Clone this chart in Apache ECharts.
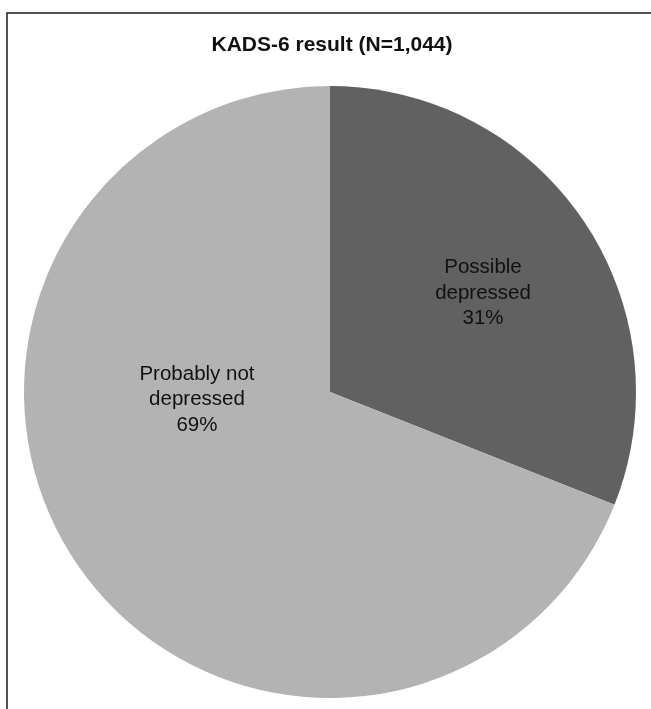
<!DOCTYPE html>
<html><head><meta charset="utf-8">
<script src="https://cdn.jsdelivr.net/npm/echarts@6/dist/echarts.min.js"></script>
<style>html,body{margin:0;padding:0;background:#fff;}#c{width:651px;height:709px;}</style>
</head><body><div id="c"></div>
<script>
const titleText = 'KADS-6 result (N=1,044)';
const categories = ['Possible\ndepressed', 'Probably not\ndepressed'];
const values = [31, 69];
const colors = ['#616161', '#b3b3b3'];
const labelOffsets = [[24, -11], [-4, -80]];

const chart = echarts.init(document.getElementById('c'));
chart.setOption({
  animation: false,
  backgroundColor: '#fff',
  title: {
    text: titleText, left: 327, textAlign: 'center', top: 30,
    textStyle: { fontFamily: 'Liberation Sans', fontWeight: 'bold', fontSize: 21, color: '#111' }
  },
  graphic: [{
    type: 'rect', shape: { x: 7, y: 13, width: 720, height: 760 },
    style: { fill: 'none', stroke: '#1a1a1a', lineWidth: 1.5 }, silent: true
  }],
  series: [{
    type: 'pie',
    center: [330, 392], radius: 306,
    startAngle: 90, clockwise: true,
    label: {
      show: true, position: 'inside',
      formatter: p => p.name + '\n' + p.value + '%',
      fontFamily: 'Liberation Sans', fontSize: 20.5, lineHeight: 25.5, color: '#111', align: 'center'
    },
    labelLine: { show: false },
    emphasis: { disabled: true },
    itemStyle: { borderWidth: 0 },
    data: categories.map((c, i) => ({
      name: c, value: values[i],
      itemStyle: { color: colors[i] },
      label: { offset: labelOffsets[i] }
    }))
  }]
});
</script></body></html>
